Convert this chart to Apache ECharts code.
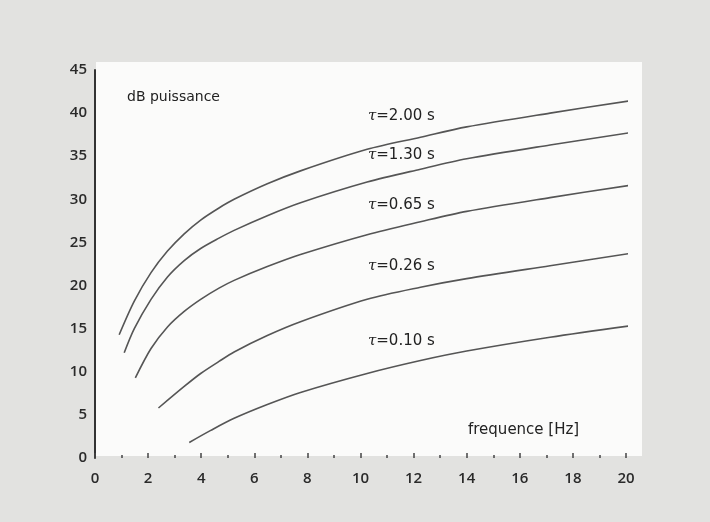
<!DOCTYPE html>
<html>
<head>
<meta charset="utf-8">
<script src="https://cdn.jsdelivr.net/npm/echarts@6/dist/echarts.min.js"></script>
<style>
html,body{margin:0;padding:0;background:#e2e2e0;}
#c{width:710px;height:522px;}
</style>
</head>
<body>
<div id="c"></div>
<script>
// Data (x = frequence [Hz], y = dB puissance)
const xTicks = [0, 2, 4, 6, 8, 10, 12, 14, 16, 18, 20];
const yTicks = [0, 5, 10, 15, 20, 25, 30, 35, 40, 45];
const seriesNames = ['τ=2.00 s', 'τ=1.30 s', 'τ=0.65 s', 'τ=0.26 s', 'τ=0.10 s'];
const tau200 = [[0.91,14.3],[1.48,18.2],[2.11,21.5],[2.73,24.0],[3.36,26.0],[3.98,27.6],[4.67,29.0],[5.24,30.0],[6.49,31.8],[7.74,33.3],[10.25,35.8],[12.26,37.2],[14,38.4],[17.14,40.0],[20.1,41.4]];
const tau130 = [[1.10,12.2],[1.48,15.0],[2.11,18.4],[2.73,21.0],[3.36,22.9],[3.98,24.3],[4.67,25.5],[5.24,26.4],[6.49,28.1],[7.74,29.6],[10.25,32.0],[12.26,33.5],[14,34.7],[17.14,36.3],[20.1,37.7]];
const tau065 = [[1.52,9.3],[2.11,12.7],[2.73,15.2],[3.36,17.0],[3.98,18.4],[4.67,19.7],[5.24,20.6],[6.49,22.2],[7.74,23.6],[10.25,25.9],[12.26,27.4],[14,28.6],[17.14,30.2],[20.1,31.6]];
const tau026 = [[2.39,5.8],[3.36,8.3],[3.98,9.8],[4.67,11.2],[5.24,12.3],[6.49,14.2],[7.74,15.8],[10.25,18.4],[12.26,19.8],[14,20.8],[17.14,22.3],[20.1,23.7]];
const tau010 = [[3.55,1.8],[4.36,3.2],[5.24,4.6],[6.49,6.2],[7.74,7.6],[10.25,9.8],[12.26,11.3],[14,12.4],[17.14,14.0],[20.1,15.3]];
const allSeries = [tau200, tau130, tau065, tau026, tau010];
const yTitle = 'dB puissance';
const xTitle = 'frequence [Hz]';

const chart = echarts.init(document.getElementById('c'), null, {renderer: 'canvas'});
const labelFont = '"DejaVu Sans", "Open Sans", sans-serif';
const tickFont = '"Open Sans", "DejaVu Sans", sans-serif';

function tauText(name, left, top) {
  const rest = name.slice(1);
  return {
    type: 'text', left: left, top: top, z: 10,
    style: {
      text: '{t|τ}{r|' + rest + '}',
      rich: {
        t: {fontFamily: '"DejaVu Serif", serif', fontStyle: 'italic', fontSize: 15, fill: '#222'},
        r: {fontFamily: labelFont, fontSize: 15, fill: '#222'}
      }
    }
  };
}

const labelPos = [[368,109],[368,148],[368,198],[368,259],[368,334]];

chart.setOption({
  backgroundColor: '#e2e2e0',
  animation: false,
  graphic: [
    {type: 'rect', left: 96, top: 62, z: -10, shape: {width: 546, height: 394}, style: {fill: '#fbfbfa'}},
    {type: 'text', left: 127, top: 90, z: 10, style: {text: yTitle, fontFamily: labelFont, fontSize: 14, fill: '#222'}},
    {type: 'text', left: 468, top: 423, z: 10, style: {text: xTitle, fontFamily: labelFont, fontSize: 15, fill: '#222'}}
  ].concat(seriesNames.map((n, i) => tauText(n, labelPos[i][0], labelPos[i][1]))),
  grid: {left: 95, right: 84, top: 70, bottom: 64, containLabel: false},
  xAxis: {
    type: 'value', min: xTicks[0], max: xTicks[xTicks.length - 1], interval: 2,
    axisLine: {show: false},
    axisTick: {show: true, inside: true, length: 5, lineStyle: {color: '#444', width: 1.5}},
    minorTick: {show: true, splitNumber: 2, length: 3, lineStyle: {color: '#444', width: 1.5}},
    splitLine: {show: false},
    axisLabel: {margin: 13, fontFamily: tickFont, fontSize: 15, fontWeight: 600, color: '#2a2a2a'}
  },
  yAxis: {
    type: 'value', min: yTicks[0], max: yTicks[yTicks.length - 1], interval: 5,
    axisLine: {show: true, lineStyle: {color: '#333', width: 2}},
    axisTick: {show: false},
    splitLine: {show: false},
    axisLabel: {margin: 8, fontFamily: tickFont, fontSize: 15, fontWeight: 600, color: '#2a2a2a'}
  },
  series: allSeries.map((d, i) => ({
    name: seriesNames[i], type: 'line', data: d, smooth: 0.3, showSymbol: false,
    lineStyle: {color: '#555', width: 1.6}, clip: false
  }))
});
</script>
</body>
</html>
